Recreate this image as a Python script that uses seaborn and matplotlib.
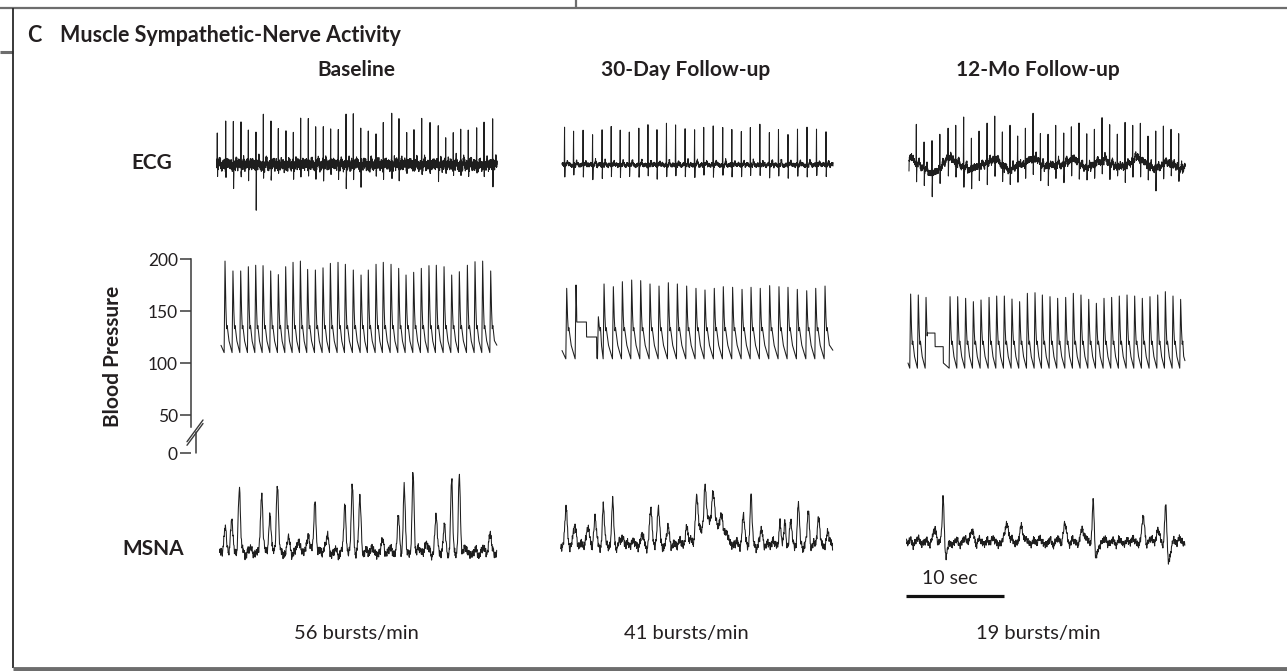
import numpy as np
import pandas as pd
import matplotlib
matplotlib.use("Agg")
import matplotlib.pyplot as plt
import matplotlib.transforms as mtransforms
from matplotlib.lines import Line2D
import seaborn as sns

sns.set_theme(style="white")
plt.rcParams['font.family'] = ['Lato', 'DejaVu Sans']

# ------------------------------------------------------------------ data
panel_title = "Muscle Sympathetic-Nerve Activity"
panel_letter = "C"
columns = ["Baseline", "30-Day Follow-up", "12-Mo Follow-up"]
burst_rates = ["56 bursts/min", "41 bursts/min", "19 bursts/min"]
row_labels = ["ECG", "Blood Pressure", "MSNA"]
bp_tick_values = [0, 50, 100, 150, 200]
scale_bar_sec = 10
scale_bar_label = "10 sec"
record_len_sec = [28.16, 27.65, 28.27]

# Blood pressure: systolic peak times (s) and systolic peaks (mmHg)
bp_base_t = [0.41, 1.22, 2.01, 2.79, 3.54, 4.29, 5.07, 5.85, 6.60, 7.35, 8.10, 8.84,
             9.63, 10.41, 11.16, 11.94, 12.69, 13.50, 14.29, 15.03, 15.82, 16.56,
             17.35, 18.13, 18.88, 19.66, 20.44, 21.22, 21.97, 22.76, 23.54, 24.32,
             25.14, 25.92, 26.70, 27.52]
bp_base_sys = [198, 188.5, 188.5, 192.6, 194, 193.6, 188.5, 185, 192.6, 196.8, 198, 190,
               189.4, 191.5, 195.8, 196.8, 194.9, 189.4, 184.6, 189.4, 194.9, 196.8,
               194.9, 191, 184.6, 187.2, 191, 193.6, 194, 192.6, 184.6, 187.8, 194,
               197.4, 198, 188.5]
bp_30d_t = [0.48, 1.43, 3.71, 4.29, 5.24, 6.16, 7.11, 8.03, 8.98, 9.90, 10.85, 11.77,
            12.72, 13.67, 14.59, 15.54, 16.46, 17.41, 18.37, 19.29, 20.23, 21.19,
            22.14, 23.06, 24.01, 24.97, 25.89, 26.84]
bp_30d_sys = [171.8, 175, 144.5, 176, 173.4, 178.2, 179.8, 179.2, 176, 174, 177.2, 176,
              174, 171.8, 170.2, 171.8, 173.4, 172.8, 170.8, 172.8, 171.8, 174.4,
              173.4, 172.8, 170.8, 169.5, 171.8, 174]
bp_12m_t = [0.27, 1.05, 1.84, 4.29, 5.07, 5.88, 6.67, 7.45, 8.27, 9.05, 9.83, 10.61,
            11.39, 12.18, 12.96, 13.71, 14.49, 15.27, 16.09, 16.87, 17.65, 18.44,
            19.22, 20.00, 20.78, 21.56, 22.35, 23.13, 23.91, 24.69, 25.48, 26.26,
            27.04, 27.82]
bp_12m_sys = [166.3, 165.4, 163.1, 163.8, 163.8, 162.2, 159, 160.6, 163.1, 164.4, 164.4,
              161.5, 159, 167, 167.6, 165.4, 163.8, 162.2, 163.1, 167, 165.4, 161.2,
              157.4, 162.2, 163.1, 164.4, 165.4, 164.4, 162.2, 163.8, 165.4, 168.6,
              164.4, 161.2]
bp_diastolic = [110, 104, 95]          # mmHg, trough level per column
bp_notch = [133, 131, 118]             # mmHg, dicrotic notch level per column
bp_start = [117, 112, 100]             # mmHg at start of each record
# calibration steps (start/stop times in s, levels in mmHg)
cal_30d_t = [1.50, 2.50, 3.54]
cal_30d_v = [139.4, 125.0]
cal_12m_t = [1.97, 2.76, 3.60]
cal_12m_v = [128.8, 115.7]

# ECG: R-wave times (s), R amplitudes and S amplitudes (uV, arbitrary)
ecg_base_t = [-0.38, 0.48, 1.26, 2.04, 2.79, 3.57, 4.32, 5.10, 5.85, 6.63, 7.38, 8.13,
              8.91, 9.66, 10.44, 11.19, 11.97, 12.76, 13.50, 14.26, 15.03, 15.82,
              16.56, 17.42, 18.16, 18.95, 19.69, 20.48, 21.33, 22.17, 22.93, 23.70,
              24.46, 25.23, 26.09, 26.84, 27.72]
ecg_base_r = [36, 48, 44, 41, 36, 32, 50, 42, 33, 29, 33, 48, 43, 32, 42, 35, 33, 48,
              47, 33, 36, 36, 45, 46, 44, 30, 32, 44, 40, 35, 30, 32, 35, 32, 37, 37, 43]
ecg_base_s = [-10, -10, -22, -10, -12, -50, -10, -12, -10, -10, -12, -10, -10, -12,
              -10, -10, -12, -22, -10, -20, -10, -10, -12, -10, -10, -12, -10, -10,
              -12, -10, -10, -12, -10, -10, -12, -10, -20]
ecg_30d_t = [0.26, 1.18, 2.15, 3.12, 4.09, 5.02, 5.94, 6.87, 7.84, 8.77, 9.69, 10.66,
             11.59, 12.56, 13.53, 14.46, 15.43, 16.40, 17.33, 18.30, 19.22, 20.19,
             21.16, 22.09, 23.06, 24.03, 25.00, 25.97, 26.94]
ecg_30d_r = [38, 33, 37, 32, 34, 38, 35, 33, 37, 38, 35, 40, 37, 35, 36, 37, 38, 36,
             35, 34, 37, 38, 34, 36, 33, 35, 37, 36, 34]
ecg_30d_s = [-12] * 29
ecg_12m_t = [0.07, 0.85, 1.64, 2.45, 3.25, 4.09, 4.87, 5.68, 6.47, 7.25, 8.07, 8.85,
             9.63, 10.41, 11.19, 11.98, 12.76, 13.51, 14.29, 15.07, 15.89, 16.67,
             17.45, 18.24, 19.02, 19.80, 20.58, 21.36, 22.15, 22.93, 23.71, 24.49,
             25.28, 26.06, 26.84, 27.62]
ecg_12m_r = [30, 38, 25, 35, 36, 28, 40, 45, 33, 30, 38, 42, 32, 44, 30, 35, 40, 28,
             36, 42, 30, 33, 41, 30, 38, 42, 35, 30, 40, 33, 38, 30, 36, 40, 32, 34]
ecg_12m_s = [-15, -18, -14, -20, -14, -16, -14, -18, -14, -15, -20, -14, -16, -14, -18,
             -14, -15, -14, -20, -14, -16, -14, -18, -14, -15, -14, -18, -14, -16, -14,
             -15, -14, -20, -14, -16, -14]
# slow baseline wander of the 12-month ECG: (time s, amplitude, width s)
ecg_12m_wander = [(0.2, 7, 0.4), (2.5, -9, 0.6), (4.2, 7, 0.45), (6.4, -5, 0.45),
                  (8.8, 5, 0.5), (10.3, -5, 0.45), (12.8, 7, 0.45), (14.1, -2, 0.4),
                  (16.9, 5, 0.5), (18.2, -3, 0.4), (20.0, 5, 0.45), (21.5, -2, 0.45),
                  (23.4, 7, 0.45), (25.3, -4, 0.45), (26.5, 2, 0.4), (27.8, -4, 0.4)]

# MSNA bursts: (time s, amplitude a.u., width s)
msna_base = [(0.41, 25, .12), (1.09, 27, .12), (1.87, 65, .11), (4.15, 62, .11),
             (5.00, 40, .11), (5.75, 64, .11), (6.87, 12, .15), (8.00, 10, .15),
             (8.91, 20, .12), (9.59, 52, .11), (10.88, 17, .12), (12.65, 44, .11),
             (13.40, 65, .11), (14.18, 54, .11), (16.50, 10, .15), (18.10, 35, .11),
             (18.70, 64, .10), (19.60, 77, .10), (20.90, 10, .15), (21.94, 34, .11),
             (22.79, 27, .11), (23.54, 70, .10), (24.32, 75, .10), (27.45, 19, .12)]
msna_30d = [(0.41, 36, .12), (1.33, 18, .15), (2.69, 15, .15), (3.37, 28, .12),
            (4.22, 38, .10), (5.17, 44, .10), (6.22, 8, .15), (8.13, 10, .15),
            (9.05, 34, .12), (9.83, 37, .12), (10.85, 18, .12), (12.72, 20, .12),
            (13.74, 37, .12), (14.60, 37, .10), (15.44, 23, .12), (15.20, 28, 1.0),
            (16.30, 12, .15), (18.50, 28, .12), (19.29, 52, .10), (20.37, 15, .12),
            (22.24, 25, .10), (22.76, 22, .10), (23.33, 22, .10), (24.12, 43, .10),
            (25.14, 35, .10), (26.16, 25, .12), (27.10, 15, .12)]
msna_12m = [(2.76, 13, .15), (3.60, 50, .10), (3.85, -20, .15), (6.50, 10, .20),
            (10.07, 22, .15), (11.60, 17, .15), (16.00, 18, .15), (17.80, 13, .15),
            (18.90, 45, .10), (19.20, -18, .15), (24.00, 22, .15), (25.50, 12, .15),
            (26.30, 37, .10), (26.60, -20, .15)]
msna_offset = [0, 7, 10]

# recorded-signal texture (fast and medium noise shape, read as typical excursions)
jitter_a = [0.3, -0.8, 0.9, -0.2, 0.6, -1.0, 0.1, 0.7, -0.5, 0.95, -0.65, 0.2, -0.9,
            0.5, -0.1, 0.8, -0.4, -0.75, 0.45, 1.0, -0.3, 0.15, -0.85, 0.65, -0.55,
            0.05, 0.85, -0.95, 0.35, -0.15, 0.75]
jitter_b = [0.5, -0.3, 0.9, 0.1, -0.7, -0.2, 0.6, -0.9, 0.3, 0.8, -0.5, -0.1, 0.4,
            -0.8, 0.7, 0.0, -0.6]
ecg_noise = [(5.0, 3.0), (1.8, 1.5), (3.0, 2.5)]     # (fast, medium) per column
msna_noise = [(4.0, 5.0), (4.0, 5.0), (3.5, 4.5)]

# ------------------------------------------------------------------ layout
W, H = 1287, 671
fig = plt.figure(figsize=(W / 100, H / 100), dpi=100)
fig.patch.set_facecolor("white")

def px_rect(left, top, width, height):
    return [left / W, 1 - (top + height) / H, width / W, height / H]

PX_PER_SEC = 9.8
col_x0 = [221, 562, 908]
AX_PAD, AX_W = 12, 300
XLIM = (-AX_PAD / PX_PER_SEC, (AX_W - AX_PAD) / PX_PER_SEC)
TRACE = "#1e1e1e"
TXT = "#231f20"
LW = 0.75

def texture(n, fast_amp, med_amp, phase):
    fast = np.resize(np.roll(jitter_a, phase), n) * fast_amp
    med_raw = np.resize(np.repeat(np.roll(jitter_b, phase), 7), n)
    med = np.convolve(med_raw, np.ones(5) / 5, mode="same") * med_amp
    return fast + med

def bursts(t, events):
    y = np.zeros_like(t)
    for tc, a, s in events:
        y += a * np.exp(-0.5 * ((t - tc) / s) ** 2)
    return y

def bp_trace(t_end, peak_t, sys, dia, notch, start, cal_t=None, cal_v=None):
    t = np.arange(0, t_end, 0.01)
    vt, vv = [0.0], [start]
    n = len(peak_t)
    for i, (tp, s) in enumerate(zip(peak_t, sys)):
        tu = tp - 0.09
        vt += [tu, tp, tp + 0.07, tp + 0.16, tp + 0.22]
        vv += [dia, s, notch + 0.4 * (s - notch), notch, notch + 3]
        nxt = peak_t[i + 1] - 0.09 if i + 1 < n else t_end
        vt.append(tp + 0.22 + 0.35 * (nxt - tp - 0.22))
        vv.append(dia + 0.45 * (notch + 3 - dia))
    vt.append(t_end)
    vv.append(dia + 0.3 * (notch - dia))
    y = np.interp(t, vt, vv)
    if cal_t is not None:
        m = (t >= cal_t[0]) & (t < cal_t[-1])
        idx = np.searchsorted(cal_t, t[m], side="right") - 1
        y[m] = np.asarray(cal_v)[idx]
    return pd.DataFrame({"t": t, "v": y})

def ecg_trace(t0, t_end, r_t, r_a, s_a, noise, phase, wander=None):
    vt, vv = [t0], [0.0]
    for tr, a, s in zip(r_t, r_a, s_a):
        vt += [tr - 0.03, tr, tr + 0.025, tr + 0.06, tr + 0.2, tr + 0.3, tr + 0.4]
        vv += [0, a, s, 0, 0, 4, 0]
    vt.append(t_end)
    vv.append(0.0)
    vt, vv = np.array(vt), np.array(vv)
    keep = (vt >= t0) & (vt <= t_end)
    t = np.union1d(np.arange(t0, t_end, 0.02), vt[keep])
    y = np.interp(t, vt, vv) + texture(len(t), noise[0], noise[1], phase)
    if wander is not None:
        y += bursts(t, wander)
    return pd.DataFrame({"t": t, "v": y})

def msna_trace(t_end, events, offset, noise, phase):
    t = np.arange(-0.15, t_end, 0.04)
    y = offset + bursts(t, events) + texture(len(t), noise[0], noise[1], phase)
    return pd.DataFrame({"t": t, "v": y})

def clean(ax):
    ax.set_xlim(*XLIM)
    ax.set_xticks([])
    ax.set_yticks([])
    for s in ax.spines.values():
        s.set_visible(False)
    ax.set_facecolor("none")
    ax.set_xlabel("")
    ax.set_ylabel("")

bp_sets = [(bp_base_t, bp_base_sys, None, None),
           (bp_30d_t, bp_30d_sys, cal_30d_t, cal_30d_v),
           (bp_12m_t, bp_12m_sys, cal_12m_t, cal_12m_v)]
ecg_sets = [(ecg_base_t, ecg_base_r, ecg_base_s, None, -0.45),
            (ecg_30d_t, ecg_30d_r, ecg_30d_s, None, 0.0),
            (ecg_12m_t, ecg_12m_r, ecg_12m_s, ecg_12m_wander, 0.1)]
msna_sets = [msna_base, msna_30d, msna_12m]

BP_TOP, BP_H = 250, 210
BP_YLIM = (200 - (BP_TOP + BP_H - 259) / 1.04, 200 + (259 - BP_TOP) / 1.04)
ECG_TOP, ECG_H, ECG_ZERO = 95, 140, 165
MS_TOP, MS_H, MS_ZERO = 460, 165, 552

for c in range(3):
    x0 = col_x0[c]
    T = record_len_sec[c]
    # ECG
    ax = fig.add_axes(px_rect(x0 - AX_PAD, ECG_TOP, AX_W, ECG_H))
    rt, ra, rs, wd, t0 = ecg_sets[c]
    d = ecg_trace(t0, T, rt, ra, rs, ecg_noise[c], 3 * c, wd)
    sns.lineplot(data=d, x="t", y="v", ax=ax, color=TRACE, lw=LW,
                 estimator=None, sort=False)
    ax.set_ylim(-(ECG_TOP + ECG_H - ECG_ZERO), ECG_ZERO - ECG_TOP)
    clean(ax)
    # Blood pressure
    ax = fig.add_axes(px_rect(x0 - AX_PAD, BP_TOP, AX_W, BP_H))
    pt, ps, ct, cv = bp_sets[c]
    d = bp_trace(T, pt, ps, bp_diastolic[c], bp_notch[c], bp_start[c], ct, cv)
    sns.lineplot(data=d, x="t", y="v", ax=ax, color=TRACE, lw=LW,
                 estimator=None, sort=False)
    ax.set_ylim(*BP_YLIM)
    clean(ax)
    if c == 0:
        zero_pos = 200 - (453 - 259) / 1.04   # broken axis: 0 drawn below the break
        spine_out = x0 - AX_PAD - 196
        ax.spines["left"].set_visible(True)
        ax.spines["left"].set_position(("outward", spine_out))
        ax.spines["left"].set_bounds(38.5, 200)
        ax.spines["left"].set_color("#3a3a3a")
        ax.spines["left"].set_linewidth(1.1)
        ax.set_yticks([zero_pos] + bp_tick_values[1:])
        ax.set_yticklabels([str(v) for v in bp_tick_values])
        ax.tick_params(axis="y", left=True, direction="out", length=8, width=1.1,
                       color="#3a3a3a", labelsize=12.5, pad=1.5, labelcolor=TXT)
        sx = -spine_out / AX_W
        tr = mtransforms.blended_transform_factory(ax.transAxes, ax.transData)
        ax.plot([sx, sx], [zero_pos, 33.7], transform=tr, color="#3a3a3a",
                lw=1.1, clip_on=False)
        for dy in (0, -3.4):
            ax.plot([sx - 9 / AX_W, sx + 7 / AX_W], [24.3 + dy, 45.2 + dy],
                    transform=tr, color="#3a3a3a", lw=1.0, clip_on=False)
    # MSNA
    ax = fig.add_axes(px_rect(x0 - AX_PAD, MS_TOP, AX_W, MS_H))
    d = msna_trace(T, msna_sets[c], msna_offset[c], msna_noise[c], 5 * c + 2)
    sns.lineplot(data=d, x="t", y="v", ax=ax, color=TRACE, lw=LW,
                 estimator=None, sort=False)
    ax.set_ylim(-(MS_TOP + MS_H - MS_ZERO), MS_ZERO - MS_TOP)
    clean(ax)
    if c == 2:
        ax.plot([-0.2, -0.2 + scale_bar_sec], [-44, -44], color="#111111",
                lw=2.3, solid_capstyle="butt", clip_on=False)
        ax.text(-0.2 + scale_bar_sec * 0.45, -26, scale_bar_label, ha="center",
                va="center", fontsize=14, color=TXT)

# ------------------------------------------------------------------ text
fig.text(27 / W, 1 - 35 / H, panel_letter, fontsize=15.5, fontweight="bold",
         color=TXT, va="center", ha="left")
fig.text(60 / W, 1 - 35 / H, panel_title, fontsize=15.5, fontweight="bold",
         color=TXT, va="center", ha="left")
for cx, name in zip([356, 686, 1038], columns):
    fig.text(cx / W, 1 - 70 / H, name, fontsize=15, fontweight="bold",
             color=TXT, ha="center", va="center")
for cx, rate in zip([356, 686, 1038], burst_rates):
    fig.text(cx / W, 1 - 633 / H, rate, fontsize=14.5, color=TXT,
             ha="center", va="center")
fig.text(152 / W, 1 - 163 / H, row_labels[0], fontsize=15, fontweight="bold",
         color=TXT, ha="center", va="center")
fig.text(113 / W, 1 - 356 / H, row_labels[1], fontsize=15, fontweight="bold",
         color=TXT, ha="center", va="center", rotation=90)
fig.text(153 / W, 1 - 549 / H, row_labels[2], fontsize=15, fontweight="bold",
         color=TXT, ha="center", va="center")

# ------------------------------------------------------------------ frame
def fline(xs, ys, color, lw):
    fig.add_artist(Line2D([x / W for x in xs], [1 - y / H for y in ys],
                          transform=fig.transFigure, color=color, lw=lw,
                          solid_capstyle="butt"))

fline([0, W], [8, 8], "#6d6d6d", 1.6)
fline([576, 576], [0, 8], "#6d6d6d", 1.6)
fline([0, 13], [52, 52], "#6d6d6d", 2.2)
fline([13, 13], [8, 668], "#2a2a2a", 1.3)
fline([13, W], [668.5, 668.5], "#6d6d6d", 3.5)

fig.savefig("out.png", dpi=100, facecolor="white")
